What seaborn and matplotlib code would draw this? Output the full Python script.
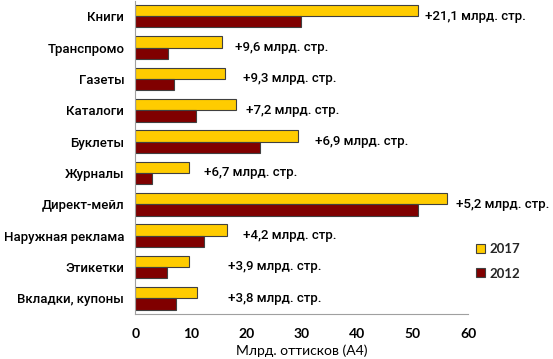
import pandas as pd
import numpy as np
import seaborn as sns
import matplotlib.pyplot as plt
from matplotlib.patches import Patch

categories = ['Книги', 'Транспромо', 'Газеты', 'Каталоги', 'Буклеты', 'Журналы',
              'Директ-мейл', 'Наружная реклама', 'Этикетки', 'Вкладки, купоны']
v2017 = [50.9, 15.6, 16.2, 18.1, 29.4, 9.7, 56.2, 16.6, 9.6, 11.1]
v2012 = [29.8, 5.9, 6.9, 10.9, 22.5, 3.0, 51.0, 12.4, 5.7, 7.3]
growth = ['+21,1', '+9,6', '+9,3', '+7,2', '+6,9', '+6,7', '+5,2', '+4,2', '+3,9', '+3,8']
# x position of each growth note (data units)
note_x = [52.3, 18.0, 19.4, 20.0, 32.4, 12.4, 57.8, 19.4, 16.7, 16.7]

df = pd.DataFrame({
    'cat': categories * 2,
    'val': v2017 + v2012,
    'year': ['2017'] * len(categories) + ['2012'] * len(categories),
})

sns.set_style('white')
plt.rcParams['font.family'] = ['Roboto', 'DejaVu Sans']

colors = {'2017': '#FFCC00', '2012': '#800000'}
txt = '#000000'

fig = plt.figure(figsize=(5.53, 3.59), dpi=100)
ax = fig.add_axes([0.245, 0.1253, 0.6013, 0.8733])

sns.barplot(data=df, y='cat', x='val', hue='year', hue_order=['2017', '2012'],
            order=categories, palette=colors, orient='h', width=0.72,
            edgecolor='#404040', linewidth=0.8, saturation=1, legend=False, ax=ax)

ax.set_xlim(0, 60)
ax.set_ylim(9.5, -0.5)
ax.set_xticks([0, 10, 20, 30, 40, 50, 60])
ax.set_ylabel('')
ax.set_xlabel('Млрд. оттисков (А4)', fontsize=10, family=['Lato', 'Open Sans', 'DejaVu Sans'],
              color=txt, labelpad=3)

for lab in ax.get_xticklabels():
    lab.set_family(['Lato', 'DejaVu Sans'])
    lab.set_fontweight('bold')
    lab.set_fontsize(10)
for lab in ax.get_yticklabels():
    lab.set_fontweight('medium')
ax.tick_params(axis='x', length=4, width=0.8, color='#A0A0A0', pad=6, labelcolor=txt)
ax.tick_params(axis='y', length=0, pad=8, labelsize=9.5, labelcolor=txt)

for s in ['top', 'right']:
    ax.spines[s].set_visible(False)
for s in ['left', 'bottom']:
    ax.spines[s].set_color('#A0A0A0')
    ax.spines[s].set_linewidth(0.8)

for i, g in enumerate(growth):
    ax.text(note_x[i], i, g + ' млрд. стр.', va='center', ha='left',
            fontsize=9.5, fontweight='medium', color=txt, clip_on=False)

handles = [Patch(facecolor=colors[y], edgecolor='#404040', linewidth=0.8) for y in ['2017', '2012']]
leg = fig.legend(handles, ['2017', '2012'], loc='center left', bbox_to_anchor=(0.838, 0.272),
                 frameon=False, handlelength=0.65, handleheight=0.65, handletextpad=0.3,
                 labelspacing=0.9)
for t in leg.get_texts():
    t.set_family(['Lato', 'DejaVu Sans'])
    t.set_fontweight('bold')
    t.set_fontsize(9.5)

fig.savefig('out.png', dpi=100)
